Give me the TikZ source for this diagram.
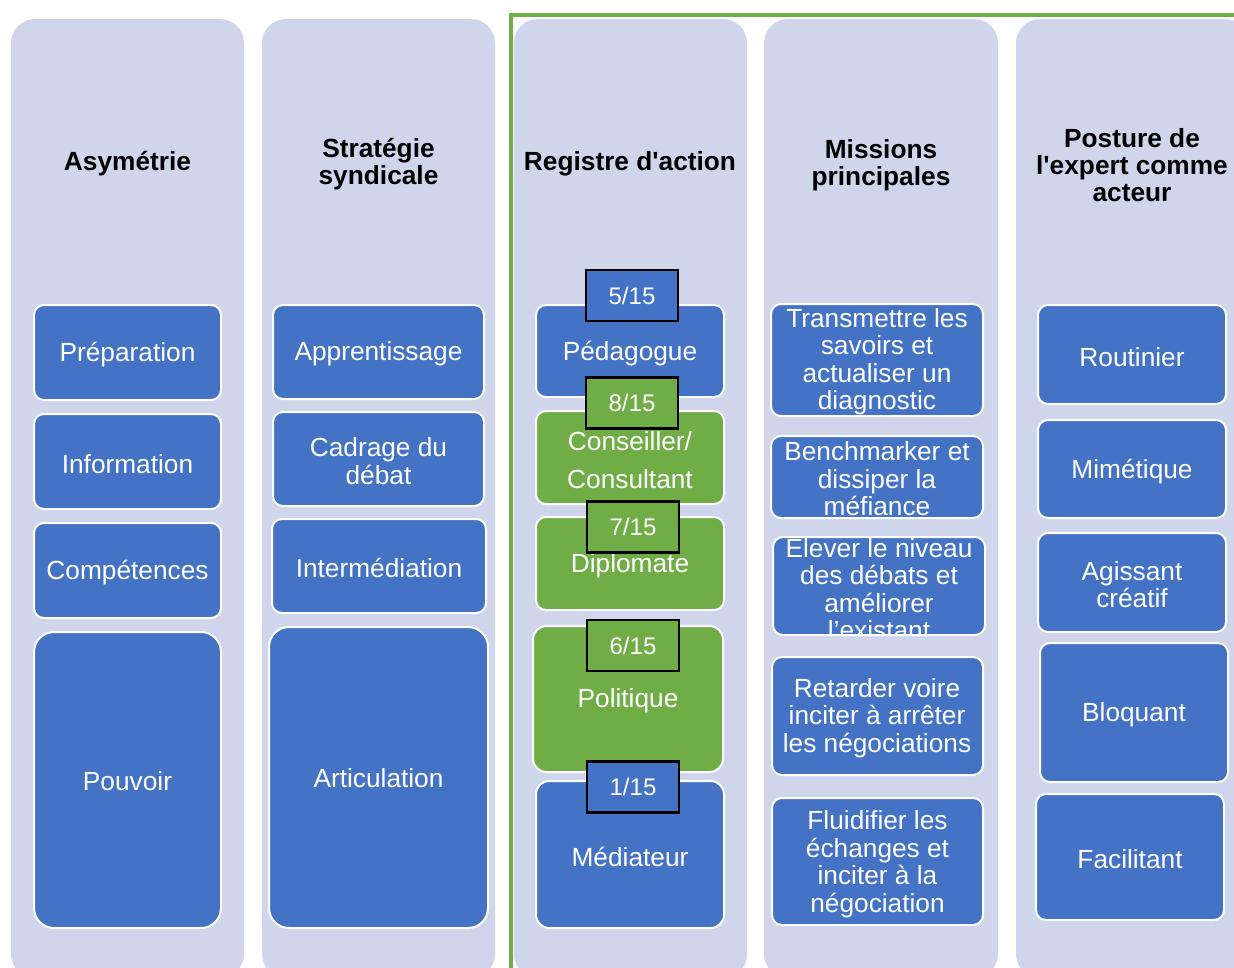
\documentclass[tikz,border=0pt]{standalone}
\usepackage{fontspec}
\setmainfont{Liberation Sans}
\definecolor{lav}{HTML}{CFD5EA}
\definecolor{blu}{HTML}{4472C4}
\definecolor{grn}{HTML}{70AD47}
\begin{document}
\begin{tikzpicture}[x=0.75pt,y=-0.75pt,
  colbg/.style={fill=lav, rounded corners=18pt},
  head/.style={font=\bfseries\fontsize{19.7}{20.4}\selectfont, align=center, text=black, inner sep=0pt, yshift=-2.2pt},
  bx/.style={fill=blu, draw=white, line width=1.5pt, rounded corners=7.5pt},
  gbx/.style={bx, fill=grn},
  bigbx/.style={bx, rounded corners=15pt},
  txt/.style={font=\fontsize{19.7}{20.6}\selectfont, align=center, text=white, inner sep=0pt, yshift=-1.6pt},
  badge/.style={draw=black, line width=1.9pt, minimum width=69pt, minimum height=38pt, inner sep=0pt,
    text=white, font=\fontsize{18}{20}\selectfont},
  frame/.style={draw=grn, line width=3pt}
]
\clip (0,0) rectangle (1234,967);
\fill[white] (0,0) rectangle (1234,967);
% columns
\fill[colbg] (11,19) rectangle (244,978);
\fill[colbg] (262,19) rectangle (495,978);
\fill[colbg] (514,19) rectangle (747,978);
\fill[colbg] (764,19) rectangle (998,978);
\fill[colbg] (1016,19) rectangle (1249,978);
% green frame
\draw[frame] (511,990) -- (511,15) -- (1250,15);
% headings
\node[head] (h1) at (127.5,161) {Asymétrie};
\node[head] (h2) at (378.5,161) {Stratégie\\syndicale};
\node[head] (h3) at (630,161) {Registre d\textquotesingle action};
\node[head] (h4) at (881,162) {Missions\\principales};
\node[head] (h5) at (1132,162) {Posture de\\l\textquotesingle expert comme\\acteur};
% column 1
\draw[bx] (34,305) rectangle (221,400);
\node[txt] (prep) at (127.5,352.5) {Préparation};
\draw[bx] (34,414) rectangle (221,509);
\node[txt] (info) at (127.5,461.5) {Information};
\draw[bx] (34,523) rectangle (221,618);
\node[txt] (comp) at (127.5,570.5) {Compétences};
\draw[bigbx] (34,632) rectangle (221,928);
\node[txt] (pouv) at (127.5,779) {Pouvoir};
% column 2
\draw[bx] (273,305) rectangle (484,399);
\node[txt] (appr) at (378.5,352) {Apprentissage};
\draw[bx] (273,412) rectangle (484,506);
\node[txt] (cadr) at (378.5,459) {Cadrage du\\débat};
\draw[bx] (272,519) rectangle (486,613);
\node[txt] (inter) at (379,566) {Intermédiation};
\draw[bigbx] (269,627) rectangle (488,928);
\node[txt] (artic) at (378.5,776) {Articulation};
% column 3
\draw[bx] (536,305) rectangle (724,397);
\node[txt] (peda) at (630,351) {Pédagogue};
\draw[gbx] (536,411) rectangle (724,504);
\node[txt, font=\fontsize{19.7}{28.5}\selectfont] (cons) at (630,457.5) {Conseiller/\\Consultant};
\draw[gbx] (536,517) rectangle (724,610);
\node[txt] (dipl) at (630,563.5) {Diplomate};
\draw[gbx, rounded corners=10pt] (533,626) rectangle (723,772);
\node[txt] (poli) at (628,699) {Politique};
\draw[bx, rounded corners=10pt] (536,781) rectangle (724,928);
\node[txt] (medi) at (630,854.5) {Médiateur};
% badges
\node[badge, fill=blu] (b5) at (632,295.5) {5/15};
\node[badge, fill=grn] (b8) at (632,403) {8/15};
\node[badge, fill=grn] (b7) at (633,527) {7/15};
\node[badge, fill=grn] (b6) at (633,645.5) {6/15};
\node[badge, fill=blu] (b1) at (633,787) {1/15};
% column 4
\draw[bx] (771,304) rectangle (983,416);
\begin{scope}
\clip[rounded corners=7.5pt] (771,304) rectangle (983,416);
\node[txt] (m1) at (877,359.5) {Transmettre les\\savoirs et\\actualiser un\\diagnostic};
\end{scope}
\draw[bx] (771,436) rectangle (983,518);
\begin{scope}
\clip[rounded corners=7.5pt] (771,436) rectangle (983,518);
\node[txt] (m2) at (877,476.5) {Benchmarker et\\dissiper la\\méfiance};
\end{scope}
\draw[bx] (773,537) rectangle (985,635);
\begin{scope}
\clip[rounded corners=7.5pt] (773,537) rectangle (985,635);
\node[txt] (m3) at (879,587) {Elever le niveau\\des débats et\\améliorer\\l’existant};
\end{scope}
\draw[bx] (772,657) rectangle (983,775);
\node[txt] (m4) at (877,716) {Retarder voire\\inciter à arrêter\\les négociations};
\draw[bx] (772,798) rectangle (983,925);
\node[txt] (m5) at (877.5,862) {Fluidifier les\\échanges et\\inciter à la\\négociation};
% column 5
\draw[bx] (1038,305) rectangle (1226,404);
\node[txt] (p1) at (1132,354.5) {Routinier};
\draw[bx] (1038,420) rectangle (1226,518);
\node[txt] (p2) at (1132,469) {Mimétique};
\draw[bx] (1038,533) rectangle (1226,632);
\node[txt] (p3) at (1132,582.5) {Agissant\\créatif};
\draw[bx] (1040,643) rectangle (1228,782);
\node[txt] (p4) at (1134,712.5) {Bloquant};
\draw[bx] (1036,794) rectangle (1224,920);
\node[txt] (p5) at (1130,857) {Facilitant};
\end{tikzpicture}
\end{document}
